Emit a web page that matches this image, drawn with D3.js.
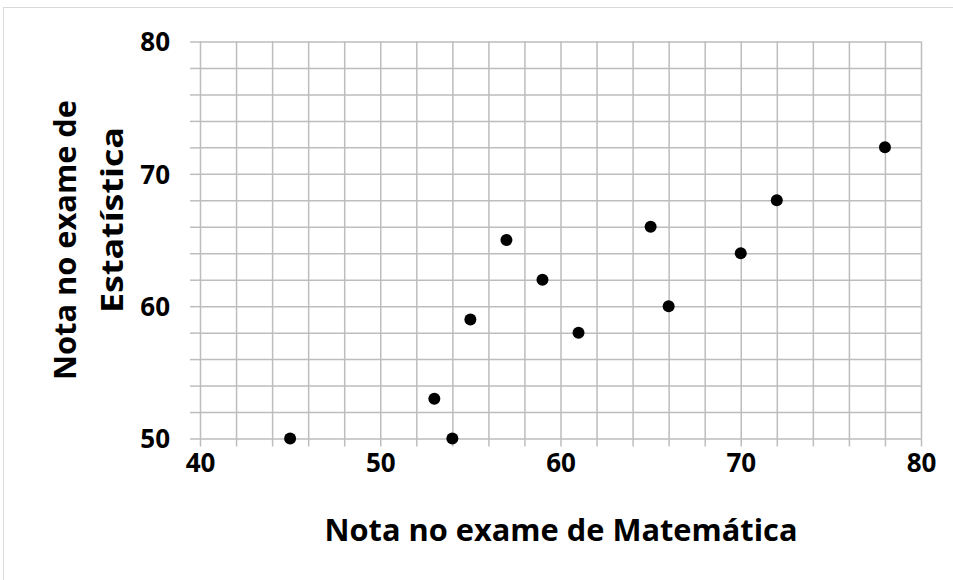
<!DOCTYPE html>
<html>
<head>
<meta charset="utf-8">
<script src="https://cdn.jsdelivr.net/npm/d3@7"></script>
<style>
  html, body { margin: 0; padding: 0; background: #fff; }
  svg { display: block; }
  text { font-family: "Open Sans", "Liberation Sans", sans-serif; font-weight: bold; fill: #000; }
</style>
</head>
<body>
<svg id="chart" width="953" height="580"></svg>
<script>
(function () {
// ---- data ----
const mathScores = [45, 53, 54, 55, 57, 59, 61, 65, 66, 70, 72, 78];
const statScores = [50, 53, 50, 59, 65, 62, 58, 66, 60, 64, 68, 72];
const xTickLabels = [40, 50, 60, 70, 80];
const yTickLabels = [50, 60, 70, 80];
const xTitle = "Nota no exame de Matemática";
const yTitleLines = ["Nota no exame de", "Estatística"];

const svg = d3.select("#chart");
const W = 953, H = 580;

// outer chart frame
svg.append("rect")
  .attr("x", 3.5).attr("y", 7.5)
  .attr("width", W + 10).attr("height", H + 10)
  .attr("fill", "#fff").attr("stroke", "#d9d9d9").attr("stroke-width", 1);

const pLeft = 200, pRight = 921, pTop = 41.5, pBottom = 438.5;
const x = d3.scaleLinear().domain([40, 80]).range([pLeft, pRight]);
const y = d3.scaleLinear().domain([50, 80]).range([pBottom, pTop]);

const gridX = d3.range(40, 81, 2);
const gridY = d3.range(50, 81, 2);
const gridColor = "#bdbdbd";

// vertical grid + outward ticks
const gx = svg.append("g").attr("transform", `translate(0,${pBottom})`)
  .call(d3.axisBottom(x).tickValues(gridX).tickSizeInner(-(pBottom - pTop)).tickSizeOuter(0).tickFormat(""));
const gx2 = svg.append("g").attr("transform", `translate(0,${pBottom})`)
  .call(d3.axisBottom(x).tickValues(gridX).tickSizeInner(8).tickSizeOuter(0).tickFormat(""));
// horizontal grid + outward ticks
const gy = svg.append("g").attr("transform", `translate(${pLeft},0)`)
  .call(d3.axisLeft(y).tickValues(gridY).tickSizeInner(-(pRight - pLeft)).tickSizeOuter(0).tickFormat(""));
const gy2 = svg.append("g").attr("transform", `translate(${pLeft},0)`)
  .call(d3.axisLeft(y).tickValues(gridY).tickSizeInner(10).tickSizeOuter(0).tickFormat(""));
[gx, gx2, gy, gy2].forEach(g => {
  g.selectAll(".domain").remove();
  g.selectAll("line").attr("stroke", gridColor).attr("stroke-width", 1.5);
});

// tick labels
const lx = svg.append("g").attr("transform", `translate(0,${pBottom})`)
  .call(d3.axisBottom(x).tickValues(xTickLabels).tickSize(0).tickPadding(31).tickFormat(d3.format("d")));
lx.select(".domain").remove();
lx.selectAll("text").attr("font-size", 26).attr("dy", "0.1em").attr("font-family", null).attr("fill", "#000");

const ly = svg.append("g").attr("transform", `translate(${pLeft},0)`)
  .call(d3.axisLeft(y).tickValues(yTickLabels).tickSize(0).tickPadding(30).tickFormat(d3.format("d")));
ly.select(".domain").remove();
ly.selectAll("text").attr("font-size", 26).attr("dy", "0.36em").attr("font-family", null).attr("fill", "#000");

// points
svg.append("g").selectAll("circle")
  .data(mathScores.map((m, i) => [m, statScores[i]]))
  .join("circle")
  .attr("cx", d => x(d[0]))
  .attr("cy", d => y(d[1]))
  .attr("r", 6)
  .attr("fill", "#000");

// axis titles
svg.append("text")
  .attr("x", 561).attr("y", 541)
  .attr("text-anchor", "middle")
  .attr("font-size", 30)
  .attr("textLength", 473).attr("lengthAdjust", "spacingAndGlyphs")
  .text(xTitle);

const yt = svg.append("g");
yt.append("text")
  .attr("transform", "translate(76,240) rotate(-90)")
  .attr("text-anchor", "middle").attr("font-size", 30)
  .attr("textLength", 280).attr("lengthAdjust", "spacingAndGlyphs")
  .text(yTitleLines[0]);
yt.append("text")
  .attr("transform", "translate(123,220) rotate(-90)")
  .attr("text-anchor", "middle").attr("font-size", 30)
  .attr("textLength", 186).attr("lengthAdjust", "spacingAndGlyphs")
  .text(yTitleLines[1]);
})();
</script>
</body>
</html>
